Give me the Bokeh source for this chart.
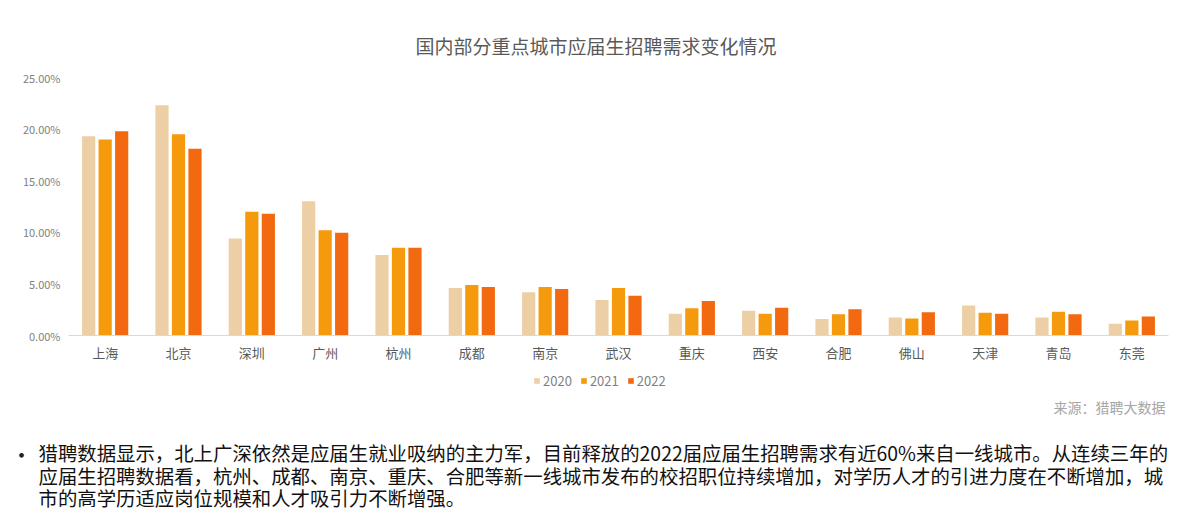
from bokeh.plotting import figure
from bokeh.models import (ColumnDataSource, FactorRange, Range1d, NumeralTickFormatter,
                          Label, Legend, LegendItem)
from bokeh.transform import dodge
from bokeh.embed import file_html
from bokeh.resources import INLINE

cities = ["上海", "北京", "深圳", "广州", "杭州", "成都", "南京", "武汉",
          "重庆", "西安", "合肥", "佛山", "天津", "青岛", "东莞"]
y2020 = [0.193, 0.223, 0.094, 0.130, 0.078, 0.046, 0.042, 0.0345,
         0.021, 0.024, 0.016, 0.0175, 0.029, 0.0175, 0.0115]
y2021 = [0.190, 0.195, 0.120, 0.102, 0.085, 0.049, 0.047, 0.046,
         0.0265, 0.021, 0.0205, 0.0165, 0.022, 0.023, 0.0145]
y2022 = [0.198, 0.181, 0.118, 0.0995, 0.085, 0.047, 0.045, 0.0385,
         0.0335, 0.027, 0.0255, 0.0225, 0.021, 0.0205, 0.0185]
years = ["2020", "2021", "2022"]
colors = ["#EDCFA5", "#F59A0C", "#F2690F"]

title_text = "国内部分重点城市应届生招聘需求变化情况"
source_text = "来源：猎聘大数据"
body_lines = [
    "猎聘数据显示，北上广深依然是应届生就业吸纳的主力军，目前释放的2022届应届生招聘需求有近60%来自一线城市。从连续三年的",
    "应届生招聘数据看，杭州、成都、南京、重庆、合肥等新一线城市发布的校招职位持续增加，对学历人才的引进力度在不断增加，城",
    "市的高学历适应岗位规模和人才吸引力不断增强。",
]

FONT = "Noto Sans CJK SC"
cols = ["y2020", "y2021", "y2022"]

src = ColumnDataSource(data=dict(city=cities, y2020=y2020, y2021=y2021, y2022=y2022))

H1 = 365
p = figure(width=1184, height=H1, x_range=FactorRange(factors=cities, range_padding=0),
           y_range=Range1d(0, 0.25), output_backend="svg", toolbar_location=None,
           min_border_left=68, min_border_right=16, min_border_top=77,
           min_border_bottom=H1 - 335)
p.outline_line_color = None
p.background_fill_color = "white"
p.border_fill_color = "white"
p.xgrid.visible = False
p.ygrid.visible = False

for off, col, c in zip([-0.225, 0.0, 0.225], cols, colors):
    p.vbar(x=dodge("city", off, range=p.x_range), top=col, width=0.18, source=src,
           fill_color=c, line_color=None)

p.yaxis.formatter = NumeralTickFormatter(format="0.00%")
p.yaxis.ticker = [0, 0.05, 0.10, 0.15, 0.20, 0.25]
p.yaxis.axis_line_color = None
p.yaxis.major_tick_line_color = None
p.yaxis.minor_tick_line_color = None
p.yaxis.major_tick_out = 0
p.yaxis.major_label_text_font = FONT
p.yaxis.major_label_text_font_size = "11px"
p.yaxis.major_label_text_color = "#7F7F7F"
p.yaxis.major_label_standoff = 8

p.xaxis.axis_line_color = "#D9D9D9"
p.xaxis.major_tick_line_color = None
p.xaxis.minor_tick_line_color = None
p.xaxis.major_tick_out = 0
p.xaxis.major_label_text_font = FONT
p.xaxis.major_label_text_font_size = "13px"
p.xaxis.major_label_text_color = "#595959"
p.xaxis.major_label_standoff = 7

p.title.text = title_text
p.title.align = "left"
p.title.offset = 347
p.title.text_font = FONT
p.title.text_font_size = "19px"
p.title.text_font_style = "normal"
p.title.text_color = "#595959"
p.title.standoff = 37

# lower block: its frame covers the whole figure
H2 = 522 - H1
q = figure(width=1184, height=H2, x_range=Range1d(0, 1184), y_range=Range1d(0, H2),
           output_backend="svg", toolbar_location=None, min_border=0,
           x_axis_location=None, y_axis_location=None)
q.outline_line_color = None
q.xgrid.visible = False
q.ygrid.visible = False
q.border_fill_color = "white"

# legend keys: hidden renderers over the same data (only their legend swatches show)
proxies = []
for col, c in zip(cols, colors):
    proxies.append(q.vbar(x=0, top=col, width=1, source=src, visible=False,
                          fill_color=c, line_color=None))
legend = Legend(items=[LegendItem(label=y, renderers=[r]) for y, r in zip(years, proxies)],
                orientation="horizontal", location=(533, H2 - 25), padding=3, margin=0,
                glyph_width=7, glyph_height=7, label_standoff=3, spacing=8,
                label_text_font=FONT, label_text_font_size="13px",
                label_text_color="#7F7F7F", label_height=13, border_line_color=None,
                background_fill_alpha=0, click_policy="none")
q.add_layout(legend, "center")

q.add_layout(Label(x=1165, y=H2 - 41, x_units="screen", y_units="screen", text=source_text,
                   text_align="right", text_baseline="middle", text_font=FONT,
                   text_font_size="14px", text_color="#A6A6A6"))
q.add_layout(Label(x=21, y=H2 - 87, x_units="screen", y_units="screen", text="•",
                   text_align="center", text_baseline="middle", text_font=FONT,
                   text_font_size="22px", text_color="#222222"))
for i, line in enumerate(body_lines):
    q.add_layout(Label(x=38, y=H2 - 87 - 22.5 * i, x_units="screen", y_units="screen",
                       text=line, text_align="left", text_baseline="middle", text_font=FONT,
                       text_font_size="19.4px", text_color="#111111"))

open("out.html", "w").write(file_html([p, q], INLINE))
